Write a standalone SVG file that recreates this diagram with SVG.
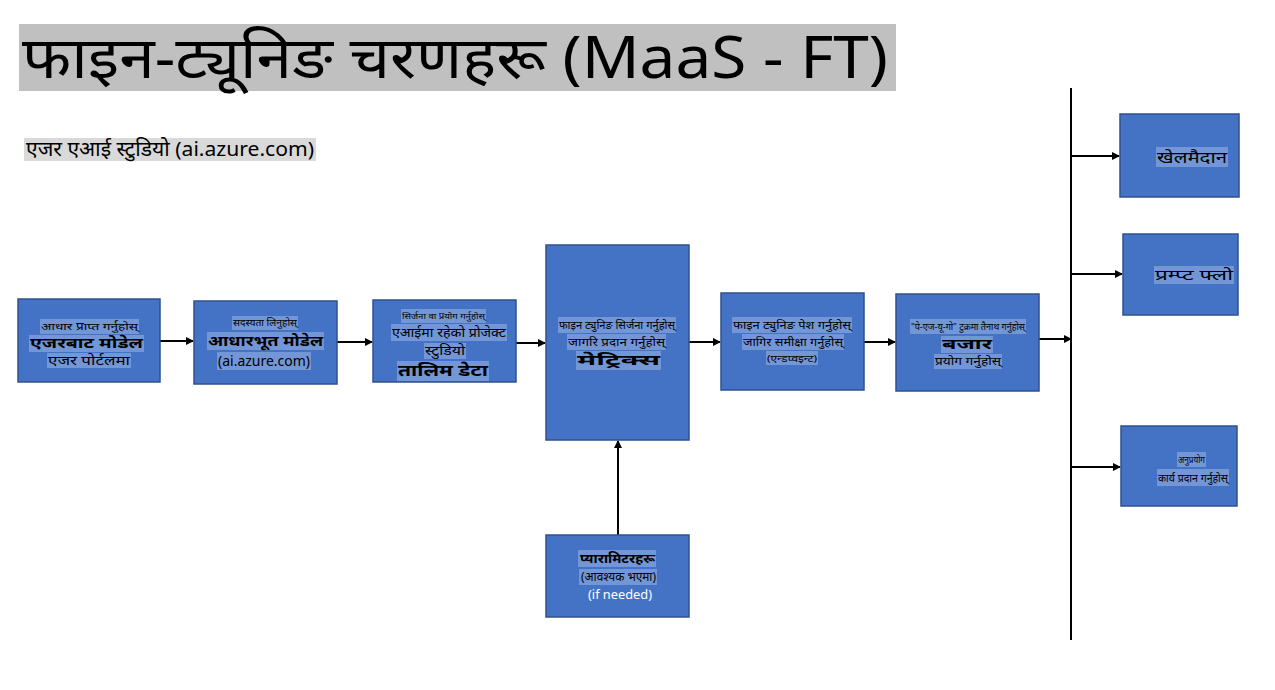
<svg xmlns="http://www.w3.org/2000/svg" width="1275" height="690" viewBox="0 0 1275 690">
<defs>
<marker id="ah" markerWidth="8" markerHeight="8" refX="7" refY="4" orient="auto" markerUnits="userSpaceOnUse">
<path d="M0,0 L8,4 L0,8 z" fill="#000"/>
</marker>
<style>
.box{fill:#4472C4;stroke:#2F528F;stroke-width:1.5}
.hl{fill:#7396D6}
.t{font-family:"Noto Sans","Noto Sans Devanagari","Open Sans",sans-serif;fill:#000;text-anchor:middle}
.b{font-weight:bold}
.w{fill:#fff}
.c{stroke:#000;stroke-width:2;fill:none;marker-end:url(#ah)}
</style>
</defs>
<rect width="1275" height="690" fill="#fff"/>
<g id="title">
<rect x="19" y="24" width="877" height="67" fill="#C0C0C0"/>
<text x="22" y="78" font-family="'Noto Sans','Noto Sans Devanagari','Open Sans',sans-serif" font-size="58" fill="#000" textLength="866" lengthAdjust="spacingAndGlyphs">फाइन-ट्यूनिङ चरणहरू (MaaS - FT)</text>
</g>
<g id="subtitle">
<rect x="24" y="138" width="292" height="23" fill="#D9D9D9"/>
<text x="26" y="156" font-family="'Noto Sans','Noto Sans Devanagari','Open Sans',sans-serif" font-size="20" fill="#000" textLength="288" lengthAdjust="spacingAndGlyphs">एजर एआई स्टुडियो (ai.azure.com)</text>
</g>
<g id="connectors">
<line x1="1071" y1="88" x2="1071" y2="640" stroke="#000" stroke-width="2"/>
<line class="c" x1="160" y1="341" x2="193" y2="341"/>
<line class="c" x1="337" y1="342" x2="372" y2="342"/>
<line class="c" x1="516" y1="343" x2="545" y2="343"/>
<line class="c" x1="689" y1="342" x2="720" y2="342"/>
<line class="c" x1="864" y1="342" x2="895" y2="342"/>
<line class="c" x1="1039" y1="339" x2="1071" y2="339"/>
<line class="c" x1="1071" y1="156" x2="1119" y2="156"/>
<line class="c" x1="1071" y1="274" x2="1122" y2="274"/>
<line class="c" x1="1071" y1="467" x2="1120" y2="467"/>
<line class="c" x1="618" y1="535" x2="618" y2="441"/>
</g>
<g id="n1">
<rect class="box" x="18" y="299" width="142" height="83"/>
<rect class="hl" x="40" y="319" width="99" height="15"/>
<rect class="hl" x="29" y="335" width="115" height="17"/>
<rect class="hl" x="47" y="353" width="84" height="15"/>
<text class="t" x="89.5" y="330" font-size="10" textLength="97" lengthAdjust="spacingAndGlyphs">आधार प्राप्त गर्नुहोस्</text>
<text class="t b" x="86.5" y="348" font-size="14" textLength="113" lengthAdjust="spacingAndGlyphs">एजरबाट मोडेल</text>
<text class="t" x="89" y="365" font-size="12" textLength="82" lengthAdjust="spacingAndGlyphs">एजर पोर्टलमा</text>
</g>
<g id="n2">
<rect class="box" x="194" y="301" width="143" height="83"/>
<rect class="hl" x="232" y="316" width="66" height="14"/>
<rect class="hl" x="207" y="332" width="117" height="18"/>
<rect class="hl" x="217" y="352" width="94" height="18"/>
<text class="t" x="265" y="326" font-size="10" textLength="64" lengthAdjust="spacingAndGlyphs">सदस्यता लिनुहोस्</text>
<text class="t b" x="265.5" y="346" font-size="14" textLength="115" lengthAdjust="spacingAndGlyphs">आधारभूत मोडेल</text>
<text class="t" x="264" y="366" font-size="15" textLength="92" lengthAdjust="spacingAndGlyphs">(ai.azure.com)</text>
</g>
<g id="n3">
<rect class="box" x="373" y="300" width="143" height="82"/>
<rect class="hl" x="401" y="309" width="85" height="14"/>
<rect class="hl" x="391" y="324" width="116" height="17"/>
<rect class="hl" x="424" y="343" width="42" height="16"/>
<rect class="hl" x="397" y="361" width="92" height="20"/>
<text class="t" x="443.5" y="319" font-size="8" textLength="83" lengthAdjust="spacingAndGlyphs">सिर्जना वा प्रयोग गर्नुहोस्</text>
<text class="t" x="449" y="337" font-size="13" textLength="114" lengthAdjust="spacingAndGlyphs">एआईमा रहेको प्रोजेक्ट</text>
<text class="t" x="445" y="355" font-size="12" textLength="40" lengthAdjust="spacingAndGlyphs">स्टुडियो</text>
<text class="t b" x="443" y="376" font-size="16" textLength="90" lengthAdjust="spacingAndGlyphs">तालिम डेटा</text>
</g>
<g id="n4">
<rect class="box" x="546" y="245" width="143" height="195"/>
<rect class="hl" x="558" y="317" width="118" height="16"/>
<rect class="hl" x="567" y="334" width="99" height="16"/>
<rect class="hl" x="576" y="351" width="85" height="19"/>
<text class="t" x="617" y="329" font-size="11" textLength="116" lengthAdjust="spacingAndGlyphs">फाइन ट्युनिङ सिर्जना गर्नुहोस्</text>
<text class="t" x="616.5" y="346" font-size="11" textLength="97" lengthAdjust="spacingAndGlyphs">जागरि प्रदान गर्नुहोस्</text>
<text class="t b" x="618.5" y="365" font-size="15" textLength="83" lengthAdjust="spacingAndGlyphs">मेट्रिक्स</text>
</g>
<g id="n5">
<rect class="box" x="721" y="293" width="143" height="97"/>
<rect class="hl" x="732" y="317" width="120" height="16"/>
<rect class="hl" x="742" y="334" width="102" height="16"/>
<rect class="hl" x="766" y="351" width="52" height="14"/>
<text class="t" x="792" y="329" font-size="11" textLength="118" lengthAdjust="spacingAndGlyphs">फाइन ट्युनिङ पेश गर्नुहोस्</text>
<text class="t" x="793" y="346" font-size="11" textLength="100" lengthAdjust="spacingAndGlyphs">जागिर समीक्षा गर्नुहोस्</text>
<text class="t" x="792" y="362" font-size="9" textLength="50" lengthAdjust="spacingAndGlyphs">(एन्डप्वइन्ट)</text>
</g>
<g id="n6">
<rect class="box" x="896" y="294" width="143" height="97"/>
<rect class="hl" x="910" y="319" width="116" height="15"/>
<rect class="hl" x="941" y="336" width="52" height="17"/>
<rect class="hl" x="934" y="354" width="68" height="15"/>
<text class="t" x="968" y="330" font-size="9" textLength="114" lengthAdjust="spacingAndGlyphs">"पे-एज-यू-गो" टुक्रमा तैनाथ गर्नुहोस्</text>
<text class="t b" x="967" y="349" font-size="14" textLength="50" lengthAdjust="spacingAndGlyphs">बजार</text>
<text class="t" x="968" y="365" font-size="11" textLength="66" lengthAdjust="spacingAndGlyphs">प्रयोग गर्नुहोस्</text>
</g>
<g id="n7">
<rect class="box" x="1120" y="114" width="119" height="83"/>
<rect class="hl" x="1156" y="147" width="72" height="20"/>
<text class="t" x="1192" y="163" font-size="16" textLength="70" lengthAdjust="spacingAndGlyphs">खेलमैदान</text>
</g>
<g id="n8">
<rect class="box" x="1123" y="234" width="115" height="81"/>
<rect class="hl" x="1154" y="266" width="80" height="18"/>
<text class="t" x="1194" y="280" font-size="14" textLength="78" lengthAdjust="spacingAndGlyphs">प्रम्प्ट फ्लो</text>
</g>
<g id="n9">
<rect class="box" x="1121" y="426" width="116" height="80"/>
<rect class="hl" x="1177" y="452" width="29" height="15"/>
<rect class="hl" x="1157" y="469" width="72" height="17"/>
<text class="t" x="1191.5" y="463" font-size="9" textLength="27" lengthAdjust="spacingAndGlyphs">अनुप्रयोग</text>
<text class="t" x="1193" y="482" font-size="11" textLength="70" lengthAdjust="spacingAndGlyphs">कार्य प्रदान गर्नुहोस्</text>
</g>
<g id="n10">
<rect class="box" x="546" y="535" width="143" height="82"/>
<rect class="hl" x="578" y="550" width="78" height="17"/>
<rect class="hl" x="579" y="569" width="78" height="16"/>
<text class="t b" x="617.5" y="563" font-size="13" textLength="75" lengthAdjust="spacingAndGlyphs">प्यारामिटरहरू</text>
<text class="t" x="618.5" y="581" font-size="12" textLength="75" lengthAdjust="spacingAndGlyphs">(आवश्यक भएमा)</text>
<text class="t w" x="620" y="599" font-size="13" textLength="64" lengthAdjust="spacingAndGlyphs">(if needed)</text>
</g>
</svg>
